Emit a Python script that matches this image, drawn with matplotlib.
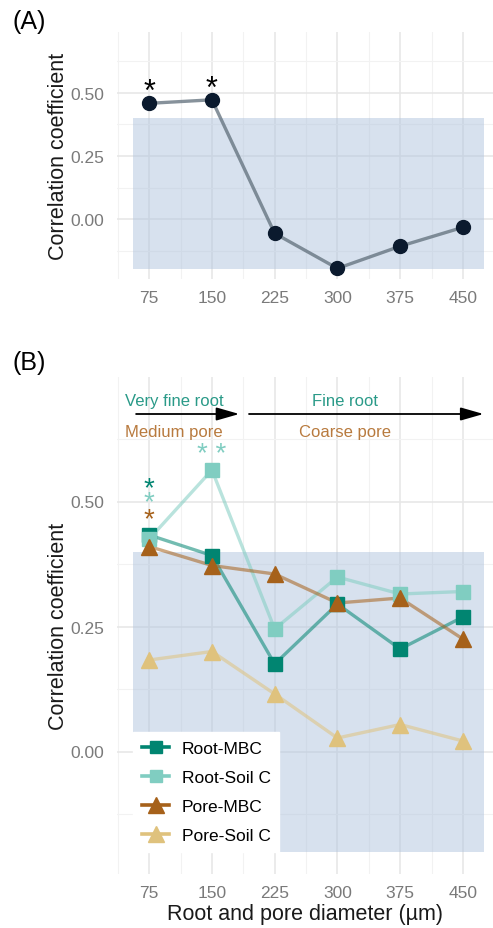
import matplotlib.pyplot as plt
from matplotlib.lines import Line2D

plt.rcParams['font.family'] = ['Liberation Sans', 'DejaVu Sans']

# diameters (um)
diameter = [75, 150, 225, 300, 375, 450]
tick_labels = ["75", "150", "225", "300", "375", "450"]

# panel A
corr_a = [0.459, 0.473, -0.057, -0.196, -0.108, -0.033]
sig_a = ["*", "*", "", "", "", ""]

# panel B
root_mbc = [0.433, 0.392, 0.175, 0.295, 0.205, 0.269]
root_soilc = [0.425, 0.563, 0.245, 0.349, 0.315, 0.320]
pore_mbc = [0.410, 0.372, 0.355, 0.297, 0.307, 0.225]
pore_soilc = [0.183, 0.200, 0.115, 0.027, 0.054, 0.021]
series_names = ["Root-MBC", "Root-Soil C", "Pore-MBC", "Pore-Soil C"]
series_colors = ["#018571", "#80cdc1", "#a6611a", "#dfc27d"]
series_markers = ["s", "s", "^", "^"]

# shaded band and axis ranges
band_x = (56, 475)
band_y = (-0.2, 0.4)
xlim = (36.5, 486)

grid_major = "#e6e6e6"
grid_minor = "#f2f2f2"
tick_col = "#7a7a7a"


def style_axis(ax, ylim, yticks, yminor):
    ax.set_xlim(*xlim)
    ax.set_ylim(*ylim)
    ax.set_xticks(diameter)
    ax.set_xticklabels(tick_labels)
    ax.set_xticks([37.5, 112.5, 187.5, 262.5, 337.5, 412.5], minor=True)
    ax.set_yticks(yticks)
    ax.set_yticklabels(["%.2f" % v for v in yticks])
    ax.set_yticks(yminor, minor=True)
    ax.grid(which="major", color=grid_major, lw=1.1, zorder=0)
    ax.grid(which="minor", color=grid_minor, lw=0.8, zorder=0)
    ax.set_axisbelow(True)
    for s in ax.spines.values():
        s.set_visible(False)
    ax.tick_params(which="both", length=0, labelsize=12.5, labelcolor=tick_col)
    ax.tick_params(axis="x", pad=8)
    ax.tick_params(axis="y", pad=9)
    ax.set_ylabel("Correlation coefficient", fontsize=15.5, color="#1a1a1a", labelpad=1)
    ax.axvspan(*band_x, ymin=(band_y[0] - ylim[0]) / (ylim[1] - ylim[0]),
               ymax=(band_y[1] - ylim[0]) / (ylim[1] - ylim[0]),
               color="#b0c4de", alpha=0.5, lw=0, zorder=1)


fig = plt.figure(figsize=(4.93, 9.29), dpi=100)

# ---- panel A
ax1 = fig.add_axes([117 / 493, 1 - 280 / 929, 1 - 117 / 493, 247 / 929])
style_axis(ax1, (-0.238, 0.742), [0.0, 0.25, 0.5], [-0.125, 0.125, 0.375, 0.625])
ax1.plot(diameter, corr_a, color="#5f6e7a", lw=2.4, alpha=0.75, zorder=2)
ax1.plot(diameter, corr_a, "o", color="#0b1a2e", ms=10, zorder=3)
for x, y, s in zip(diameter, corr_a, sig_a):
    ax1.text(x, y + 0.045, s, ha="center", va="center", fontsize=22, color="black")
fig.text(12 / 493, 1 - 22 / 929, "(A)", fontsize=18, va="center", ha="left")

# ---- panel B
ax2 = fig.add_axes([117 / 493, 1 - 875 / 929, 1 - 117 / 493, 497 / 929])
style_axis(ax2, (-0.245, 0.749), [0.0, 0.25, 0.5], [-0.125, 0.125, 0.375, 0.625])
all_b = [root_mbc, root_soilc, pore_mbc, pore_soilc]
order = [3, 2, 1, 0]
handles = []
for i in order:
    ax2.plot(diameter, all_b[i], color=series_colors[i], lw=2.4, alpha=0.55, zorder=2 + i * 0.1)
    ax2.plot(diameter, all_b[i], series_markers[i], color=series_colors[i],
             ms=9.5 if series_markers[i] == "s" else 11.5, zorder=3 + i * 0.1)
for i in range(4):
    handles.append(Line2D([], [], color=series_colors[i], lw=2.6, marker=series_markers[i],
                          ms=9 if series_markers[i] == "s" else 11, label=series_names[i]))

# significance marks
ax2.text(75, 0.526, "*", ha="center", va="center", fontsize=20, color=series_colors[0])
ax2.text(75, 0.498, "*", ha="center", va="center", fontsize=20, color=series_colors[1])
ax2.text(75, 0.465, "*", ha="center", va="center", fontsize=20, color=series_colors[2])
ax2.text(150, 0.596, "* *", ha="center", va="center", fontsize=20, color=series_colors[1])

# size class arrows
arrow_y = 0.675
ax2.annotate("", xy=(186, arrow_y), xytext=(56, arrow_y),
             arrowprops=dict(arrowstyle="-|>,head_length=1.4,head_width=0.4", color="black", lw=1.3))
ax2.annotate("", xy=(478, arrow_y), xytext=(191, arrow_y),
             arrowprops=dict(arrowstyle="-|>,head_length=1.4,head_width=0.4", color="black", lw=1.3))
ax2.text(105, 0.703, "Very fine root", ha="center", va="center", fontsize=12, color="#2a9a88")
ax2.text(309, 0.703, "Fine root", ha="center", va="center", fontsize=12, color="#2a9a88")
ax2.text(105, 0.641, "Medium pore", ha="center", va="center", fontsize=12, color="#b87a3e")
ax2.text(309, 0.641, "Coarse pore", ha="center", va="center", fontsize=12, color="#b87a3e")

leg = ax2.legend(handles=handles, loc="lower left", bbox_to_anchor=(0.0426, 0.0443),
                 frameon=True, fancybox=False, framealpha=1, edgecolor="white",
                 facecolor="white", fontsize=12.5, handlelength=1.6, labelspacing=0.8,
                 borderpad=0.5, handletextpad=0.7, borderaxespad=0)
leg.set_zorder(5)

ax2.set_xlabel("Root and pore diameter (\u00b5m)", fontsize=15.5, color="#1a1a1a", labelpad=2)
fig.text(12 / 493, 1 - 363 / 929, "(B)", fontsize=18, va="center", ha="left")

fig.savefig("out.png", dpi=100, facecolor="white")
